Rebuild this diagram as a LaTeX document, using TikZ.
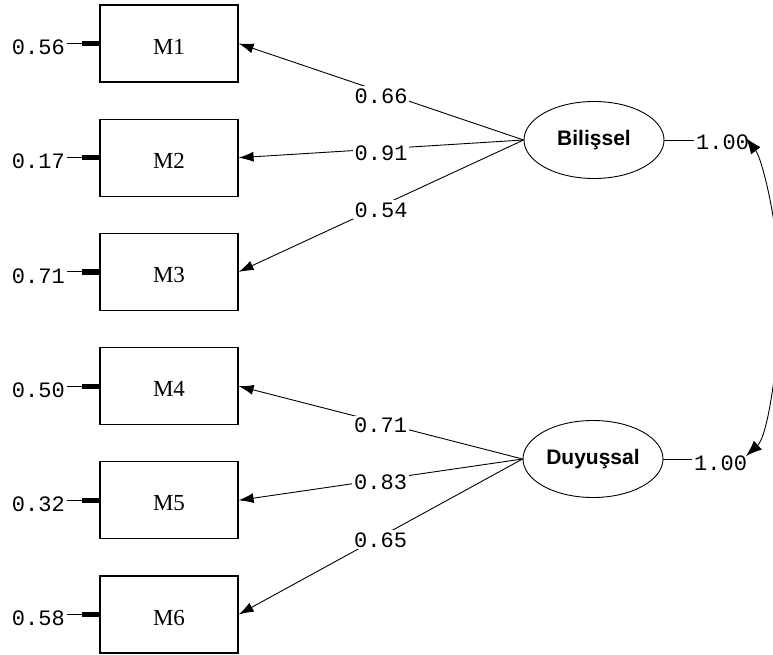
\documentclass[tikz,border=0pt]{standalone}
\usepackage{fontspec}
\setmainfont{Liberation Serif}
\newfontfamily\numfont{Liberation Mono}
\newfontfamily\latfont{Liberation Sans}
\usetikzlibrary{arrows.meta,shapes.geometric}
\begin{document}
\begin{tikzpicture}[x=1pt,y=-1pt,
  obs/.style={draw, line width=1.2pt, minimum width=138pt, minimum height=77pt, inner sep=0pt},
  obstext/.style={font=\fontsize{23}{23}\selectfont, inner sep=0pt},
  lat/.style={draw, ellipse, line width=0.9pt, minimum width=140pt, minimum height=77pt, inner sep=0pt, font=\latfont\bfseries\fontsize{21}{21}\selectfont},
  num/.style={fill=white, inner sep=2pt, font=\numfont\fontsize{22}{22}\selectfont},
  load/.style={line width=0.9pt, -{Latex[length=15pt,width=10pt]}},
  errarrow/.style={line width=0.9pt, -{Rectangle[length=17pt,width=5pt]}},
  cov/.style={line width=0.9pt, {Latex[length=16pt,width=12pt]}-{Latex[length=16pt,width=12pt]}}
]
\useasboundingbox (0,0) rectangle (773,655);
\clip (0,0) rectangle (773,655);

% observed variables
\foreach \i/\y in {1/43.5,2/157.7,3/271.9,4/386.1,5/500.3,6/614.5}{
  \node[obs] (m\i) at (169,\y) {};
  \node[obstext] (t\i) at (169,\y+3) {M\i};
}

% latent variables
\node[lat] (bil) at (594,140) {Bilişsel};
\node[lat] (duy) at (593,459) {Duyuşsal};

% error terms
\node[num, anchor=east] (e1) at (67,47.5) {0.56};
\node[num, anchor=east] (e2) at (67,161.7) {0.17};
\node[num, anchor=east] (e3) at (67,275.9) {0.71};
\node[num, anchor=east] (e4) at (67,390.1) {0.50};
\node[num, anchor=east] (e5) at (67,504.3) {0.32};
\node[num, anchor=east] (e6) at (67,618.5) {0.58};
\foreach \i in {1,...,6}{
  \draw[errarrow] (e\i.east |- m\i.west) -- (m\i.west);
}

% loadings
\draw[load] (bil.west) -- node[num, pos=0.5, yshift=-4pt] (l1) {0.66} (m1.east);
\draw[load] (bil.west) -- node[num, pos=0.5, yshift=-4pt] (l2) {0.91} (m2.east);
\draw[load] (bil.west) -- node[num, pos=0.5, yshift=-4pt] (l3) {0.54} (m3.east);
\draw[load] (duy.west) -- node[num, pos=0.5, yshift=-3pt] (l4) {0.71} (m4.east);
\draw[load] (duy.west) -- node[num, pos=0.5, yshift=-3pt] (l5) {0.83} (m5.east);
\draw[load] (duy.west) -- node[num, pos=0.5, yshift=-3pt] (l6) {0.65} (m6.east);

% variances of latents
\node[num, anchor=west, fill=none] (v1) at (694,142) {1.00};
\node[num, anchor=west, fill=none] (v2) at (692,463) {1.00};
\draw[line width=0.9pt] (bil.east) -- (v1.west |- bil.east);
\draw[line width=0.9pt] (duy.east) -- (v2.west |- duy.east);

% covariance
\coordinate (ct) at (746,138);
\coordinate (cm) at (780,298);
\coordinate (cb) at (746,456);
\draw[cov] (ct) .. controls (763,160) and (781,236) .. (cm)
                .. controls (779,360) and (768,436) .. (cb);
\end{tikzpicture}
\end{document}
